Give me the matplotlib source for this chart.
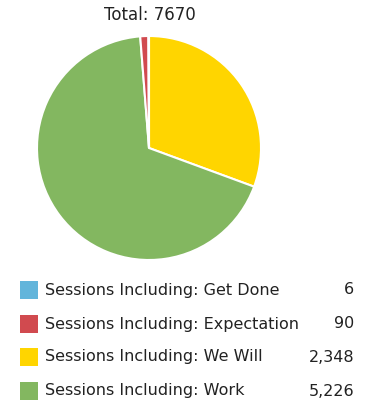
import matplotlib
matplotlib.use("Agg")
import matplotlib.pyplot as plt
from matplotlib.patches import Rectangle

labels = ["Sessions Including: Get Done", "Sessions Including: Expectation",
          "Sessions Including: We Will", "Sessions Including: Work"]
values = [6, 90, 2348, 5226]
colors = ["#62B5DB", "#D14A4F", "#FFD500", "#83B760"]

W, H = 367, 404
fig = plt.figure(figsize=(W / 100, H / 100), dpi=100)
fig.patch.set_facecolor("white")

# pie area, placed in pixel units
cx, cy, r = 149, 148, 112
ax = fig.add_axes([(cx - r) / W, 1 - (cy + r) / H, 2 * r / W, 2 * r / H])
# clockwise from 12 o'clock: We Will, Work, Expectation, Get Done
order = [2, 3, 1, 0]
ax.pie([values[i] for i in order], colors=[colors[i] for i in order],
       startangle=90, counterclock=False,
       wedgeprops=dict(edgecolor="white", linewidth=1.5))
ax.set_xlim(-1, 1)
ax.set_ylim(-1, 1)
ax.set_aspect("equal")
ax.axis("off")

# overlay for title and legend in pixel coordinates
lg = fig.add_axes([0, 0, 1, 1], facecolor="none")
lg.set_xlim(0, W)
lg.set_ylim(H, 0)
lg.axis("off")

total = sum(values)
lg.text(150, 15, f"Total: {total}", ha="center", va="center",
        fontsize=12, color="#222222")

rows = [290, 324, 357, 391]
for y, lab, val, col in zip(rows, labels, values, colors):
    lg.add_patch(Rectangle((20, y - 9), 18, 18, facecolor=col, edgecolor="none"))
    lg.text(45, y, lab, ha="left", va="center", fontsize=11.5, color="#222222")
    lg.text(354, y, f"{val:,}", ha="right", va="center", fontsize=11.5, color="#222222")

fig.savefig("out.png", dpi=100)
